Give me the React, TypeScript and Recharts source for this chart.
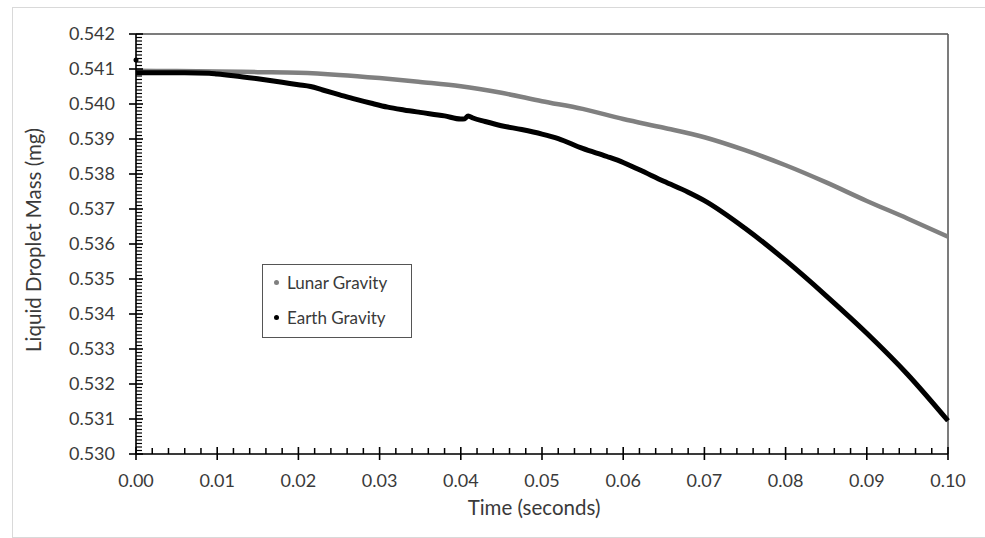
import React from 'react';
import { ComposedChart, Line, Scatter, XAxis, YAxis, CartesianGrid, ReferenceLine, Legend } from 'recharts';

// Time (s) and liquid droplet mass (mg)
const lunarTime = [0, 0.005, 0.01, 0.015, 0.02, 0.025, 0.03, 0.035, 0.04, 0.045, 0.05, 0.055, 0.06, 0.065, 0.07, 0.075, 0.08, 0.085, 0.09, 0.095, 0.1];
const lunarMass = [0.54095, 0.54094, 0.54093, 0.54091, 0.54089, 0.54083, 0.54074, 0.54063, 0.54051, 0.54032, 0.54008, 0.53986, 0.53957, 0.53932, 0.53905, 0.53868, 0.53825, 0.53776, 0.53723, 0.53673, 0.53621];

const earthTime = [0, 0.003, 0.006, 0.009, 0.01, 0.012, 0.015, 0.018, 0.02, 0.0215, 0.023, 0.025, 0.027, 0.029, 0.031, 0.033, 0.035, 0.038, 0.04, 0.0405, 0.0409, 0.0415, 0.043, 0.045, 0.0475, 0.05, 0.052, 0.055, 0.058, 0.06, 0.062, 0.065, 0.068, 0.07, 0.075, 0.08, 0.085, 0.09, 0.095, 0.1];
const earthMass = [0.54089, 0.54089, 0.54089, 0.54088, 0.54086, 0.54081, 0.54072, 0.54062, 0.54055, 0.54050, 0.54040, 0.54027, 0.54014, 0.54002, 0.53991, 0.53983, 0.53976, 0.53966, 0.53957, 0.53958, 0.53966, 0.53960, 0.53950, 0.53938, 0.53927, 0.53914, 0.53901, 0.53873, 0.53850, 0.53833, 0.53812, 0.53779, 0.53748, 0.53724, 0.53645, 0.53553, 0.53452, 0.53345, 0.53228, 0.53095];

const earthOutlier = [{ t: 0, m: 0.54126 }];

const legendOrder = ['Lunar Gravity', 'Earth Gravity'];

const xMajorTicks = [0, 0.01, 0.02, 0.03, 0.04, 0.05, 0.06, 0.07, 0.08, 0.09, 0.1];
const yMajorTicks = [0.53, 0.531, 0.532, 0.533, 0.534, 0.535, 0.536, 0.537, 0.538, 0.539, 0.54, 0.541, 0.542];
const xMinorStep = 0.002;
const yMinorStep = 0.0001;

const xTicks = Array.from({ length: Math.round(0.1 / xMinorStep) + 1 }, (_, i) => Number((i * xMinorStep).toFixed(4)));
const yTicks = Array.from({ length: Math.round(0.012 / yMinorStep) + 1 }, (_, i) => Number((0.53 + i * yMinorStep).toFixed(5)));

const lunarData = lunarTime.map((t, i) => ({ t, m: lunarMass[i] }));
const earthData = earthTime.map((t, i) => ({ t, m: earthMass[i] }));

const FONT = 'Lato, "Open Sans", sans-serif';
const TEXT = '#3a3a3a';

const XTick = (props: any) => {
  const { x, y, payload } = props;
  const v = payload.value as number;
  const major = Math.round(v * 1000) % 10 === 0;
  if (major) {
    return (
      <g>
        <line x1={x} x2={x} y1={y - 7} y2={y + 6} stroke="#000" strokeWidth={1.6} />
        <text x={x} y={y + 33} textAnchor="middle" fontSize={18} fill={TEXT} fontFamily={FONT}>{v.toFixed(2)}</text>
      </g>
    );
  }
  return <line x1={x} x2={x} y1={y - 6} y2={y} stroke="#000" strokeWidth={1.5} />;
};

const YTick = (props: any) => {
  const { x, y, payload } = props;
  const v = payload.value as number;
  const major = Math.round(v * 10000) % 10 === 0;
  if (major) {
    return (
      <g>
        <line x1={x - 7} x2={x + 7} y1={y} y2={y} stroke="#000" strokeWidth={1.6} />
        <text x={x - 21} y={y} dy={6} textAnchor="end" fontSize={18} fill={TEXT} fontFamily={FONT}>{v.toFixed(3)}</text>
      </g>
    );
  }
  return <line x1={x} x2={x + 6} y1={y} y2={y} stroke="#000" strokeWidth={1.2} />;
};

const LegendBox = (props: any) => {
  const items = (props.payload || [])
    .filter((p: any) => legendOrder.includes(p.value))
    .sort((a: any, b: any) => legendOrder.indexOf(a.value) - legendOrder.indexOf(b.value));
  return (
    <div style={{ width: 150, height: 74, border: '1.5px solid #555', background: '#fff', boxSizing: 'border-box', fontFamily: FONT, fontSize: 17, color: TEXT }}>
      {items.map((p: any, i: number) => (
        <div key={i} style={{ display: 'flex', alignItems: 'center', height: 35, paddingLeft: 11 }}>
          <span style={{ display: 'inline-block', width: 5, height: 5, borderRadius: 3, background: p.color, marginRight: 8 }} />
          <span>{p.value}</span>
        </div>
      ))}
    </div>
  );
};

export default function App() {
  return (
    <div style={{ position: 'absolute', left: 0, top: 0, width: 985, height: 538, background: '#fff', overflow: 'hidden' }}>
      <div style={{ position: 'absolute', left: 12, top: 7, width: 990, height: 529, border: '1px solid #d9d9d9' }} />
      <ComposedChart width={985} height={538} margin={{ top: 34, right: 37, bottom: 0, left: 36 }}>
        <XAxis xAxisId="grid" type="number" dataKey="t" domain={[0, 0.1]} ticks={xMajorTicks} interval={0} hide />
        <YAxis yAxisId="grid" type="number" dataKey="m" domain={[0.53, 0.542]} ticks={yMajorTicks} interval={0} hide />
        <CartesianGrid xAxisId="grid" yAxisId="grid" stroke="#dcdcdc" strokeWidth={1.5} />
        <XAxis
          dataKey="t"
          type="number"
          domain={[0, 0.1]}
          ticks={xTicks}
          interval={0}
          tickSize={0}
          tickMargin={0}
          tick={<XTick />}
          height={84}
          axisLine={{ stroke: '#000', strokeWidth: 1.6 }}
          label={{
            content: () => (
              <text x={534} y={515} textAnchor="middle" fontSize={20.5} fill={TEXT} fontFamily={FONT}>Time (seconds)</text>
            ),
          }}
        />
        <YAxis
          dataKey="m"
          type="number"
          domain={[0.53, 0.542]}
          ticks={yTicks}
          interval={0}
          tickSize={0}
          tickMargin={0}
          tick={<YTick />}
          width={100}
          axisLine={{ stroke: '#000', strokeWidth: 1.6 }}
          label={{
            content: () => (
              <text x={41} y={240} transform="rotate(-90 41 240)" textAnchor="middle" fontSize={20.5} fill={TEXT} fontFamily={FONT}>Liquid Droplet Mass (mg)</text>
            ),
          }}
        />
        <ReferenceLine y={0.542} stroke="#595959" strokeWidth={1.5} />
        <ReferenceLine x={0.1} stroke="#595959" strokeWidth={1.5} />
        <Line data={lunarData} dataKey="m" name="Lunar Gravity" type="monotone" stroke="#808080" strokeWidth={4.5} dot={false} isAnimationActive={false} />
        <Line data={earthData} dataKey="m" name="Earth Gravity" type="monotone" stroke="#000000" strokeWidth={5} dot={false} isAnimationActive={false} />
        <Scatter data={earthOutlier} dataKey="m" fill="#000" legendType="none" isAnimationActive={false} shape={(p: any) => <circle cx={p.cx} cy={p.cy} r={2.5} fill="#000" />} />
        <Legend
          layout="horizontal"
          verticalAlign="middle"
          align="center"
          content={<LegendBox />}
          wrapperStyle={{ left: 262, top: 264, width: 150, height: 74 }}
        />
      </ComposedChart>
    </div>
  );
}
